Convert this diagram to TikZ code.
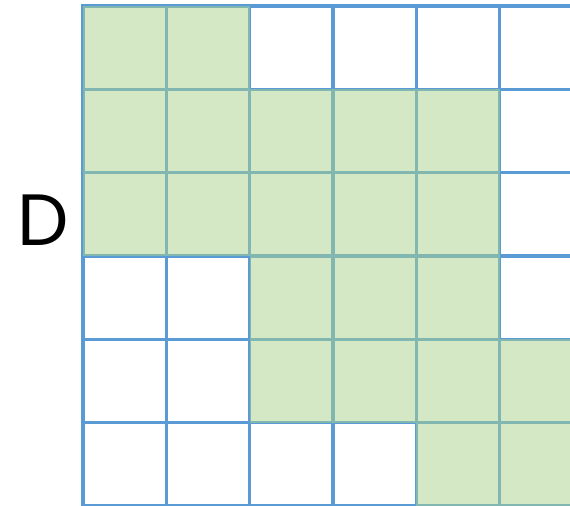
\documentclass[tikz,border=0pt]{standalone}
\usepackage{fontspec}
\setmainfont{Poppins}
\usepackage{xcolor}
\definecolor{gridblue}{RGB}{91,155,213}
\definecolor{cellgreen}{RGB}{169,209,142}
\tikzset{
    gridcell/.style={
        draw=gridblue,
        rectangle,
        line width=2.6pt,
        minimum width=2.5cm,
        minimum height=2.5cm,
        inner sep=0pt,
        outer sep=0pt,
        anchor=north west
    },
    cellfill/.style={
        fill=cellgreen,
        fill opacity=0.5
    }
}

\begin{document}
\begin{tikzpicture}

\clip (-2.49,0.18) rectangle (14.61,-14.97);

% ---------------------------------------------------------
% Grid of cells
% ---------------------------------------------------------
\foreach \row in {0,...,5}
{
    \foreach \col in {0,...,5}
    {
        \pgfmathsetmacro{\x}{\col*2.5}
        \pgfmathsetmacro{\y}{-\row*2.5}
        \node[gridcell] (cell-\row-\col) at (\x cm,\y cm) {};
    }
}

% ---------------------------------------------------------
% Shaded cells
% ---------------------------------------------------------
\foreach \col/\row in {
    0/0,
    1/0,
    0/1,
    1/1,
    2/1,
    3/1,
    4/1,
    0/2,
    1/2,
    2/2,
    3/2,
    4/2,
    2/3,
    3/3,
    4/3,
    2/4,
    3/4,
    4/4,
    5/4,
    4/5,
    5/5}
{
    \fill[cellfill] (cell-\row-\col.north west) rectangle (cell-\row-\col.south east);
}

% Row label
\node[font=\fontsize{62}{62}\selectfont] (rowlabel) at (-1.2,-6.42) {D};

\end{tikzpicture}
\end{document}
